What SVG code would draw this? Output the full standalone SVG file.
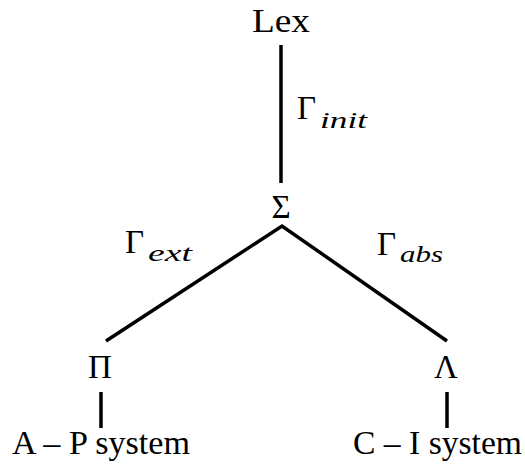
<svg xmlns="http://www.w3.org/2000/svg" width="525" height="468" viewBox="0 0 525 468">
<rect width="525" height="468" fill="#fff"/>
<g id="connectors" stroke="#000" stroke-width="3.5" fill="none">
<line x1="281" y1="45" x2="281" y2="183"/>
<polyline points="106,341 282,226 447,341"/>
<line x1="101" y1="392" x2="101" y2="428"/>
<line x1="447" y1="392" x2="447" y2="428"/>
</g>
<g id="lex"><text font-family="Liberation Serif" font-size="34" x="281" y="32" text-anchor="middle" textLength="58" lengthAdjust="spacingAndGlyphs">Lex</text></g>
<g id="gamma-init"><text font-family="Liberation Serif" font-size="33" x="297" y="119">&#915;</text><text font-family="Liberation Serif" font-size="24" font-style="italic" x="320" y="128" textLength="47" lengthAdjust="spacingAndGlyphs">init</text></g>
<g id="sigma"><text font-family="Liberation Serif" font-size="33" x="281" y="218" text-anchor="middle">&#931;</text></g>
<g id="gamma-ext"><text font-family="Liberation Serif" font-size="33" x="125" y="253">&#915;</text><text font-family="Liberation Serif" font-size="24" font-style="italic" x="148" y="261" textLength="44" lengthAdjust="spacingAndGlyphs">ext</text></g>
<g id="gamma-abs"><text font-family="Liberation Serif" font-size="33" x="377" y="255">&#915;</text><text font-family="Liberation Serif" font-size="24" font-style="italic" x="400" y="262" textLength="43" lengthAdjust="spacingAndGlyphs">abs</text></g>
<g id="pi"><text font-family="Liberation Serif" font-size="33" x="100" y="378" text-anchor="middle">&#928;</text></g>
<g id="lambda"><text font-family="Liberation Serif" font-size="33" x="446" y="378" text-anchor="middle">&#923;</text></g>
<g id="ap"><text font-family="Liberation Serif" font-size="33" x="12" y="454" textLength="178" lengthAdjust="spacingAndGlyphs">A &#8211; P system</text></g>
<g id="ci"><text font-family="Liberation Serif" font-size="33" x="353" y="454" textLength="169" lengthAdjust="spacingAndGlyphs">C &#8211; I system</text></g>
</svg>
